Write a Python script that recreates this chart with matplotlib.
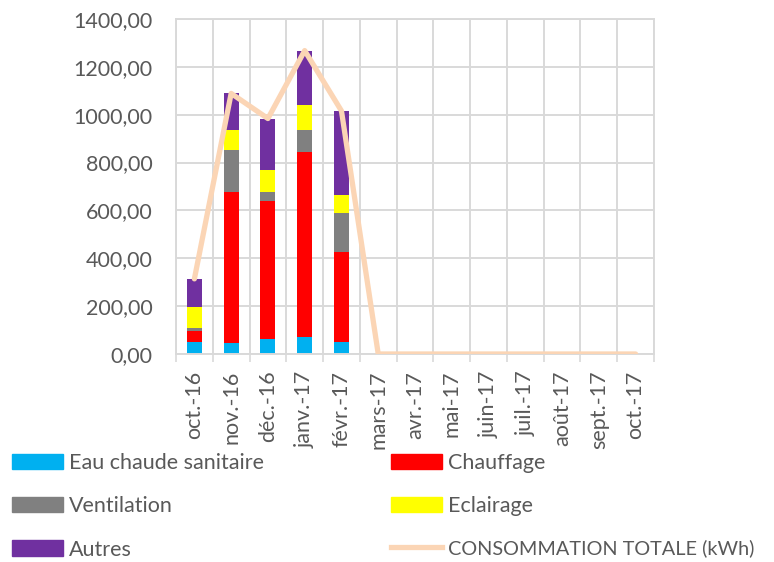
import numpy as np
import matplotlib.pyplot as plt
from matplotlib.patches import Patch
from matplotlib.lines import Line2D

mois = ['oct.-16', 'nov.-16', 'déc.-16', 'janv.-17', 'févr.-17', 'mars-17', 'avr.-17',
        'mai-17', 'juin-17', 'juil.-17', 'août-17', 'sept.-17', 'oct.-17']

eau_chaude = [52, 45, 64, 71, 52]
chauffage = [46, 631, 574, 772, 374]
ventilation = [12, 176, 37, 95, 162]
eclairage = [87, 84, 96, 102, 76]
autres = [117, 153, 213, 228, 352]
total = [314, 1089, 984, 1268, 1016, 0, 0, 0, 0, 0, 0, 0, 0]

series = [
    ('Eau chaude sanitaire', eau_chaude, '#00B0F0'),
    ('Chauffage', chauffage, '#FF0000'),
    ('Ventilation', ventilation, '#808080'),
    ('Eclairage', eclairage, '#FFFF00'),
    ('Autres', autres, '#7030A0'),
]
couleur_total = '#FBD5B5'
gris_texte = '#595959'
gris_grille = '#D9D9D9'

plt.rcParams['font.family'] = ['Lato', 'DejaVu Sans']

fig = plt.figure(figsize=(7.74, 5.62), dpi=100)
ax = fig.add_axes([176 / 774, 1 - 354 / 562, 478 / 774, 335 / 562])

x = np.arange(len(mois))
n = len(eau_chaude)
bas = np.zeros(n)
for nom, vals, coul in series:
    ax.bar(x[:n], vals, width=0.41, bottom=bas, color=coul, zorder=2)
    bas += np.array(vals)

ax.plot(x, total, color=couleur_total, linewidth=3.8, zorder=3, solid_capstyle='round')

ax.set_xlim(-0.5, len(mois) - 0.5)
ax.set_ylim(0, 1400)
ax.set_yticks(np.arange(0, 1401, 200))
ax.set_yticklabels([f'{v},00' for v in range(0, 1401, 200)])
ax.set_xticks(x)
ax.set_xticklabels(mois, rotation=90)
ax.set_xticks(np.arange(-0.5, len(mois)), minor=True)

ax.tick_params(axis='y', length=0, pad=17, labelsize=15.5, labelcolor=gris_texte)
ax.tick_params(axis='x', which='major', length=0, pad=12, labelsize=15.5, labelcolor=gris_texte)
ax.tick_params(axis='x', which='minor', length=6, width=1.2, color=gris_grille)

ax.grid(axis='y', color=gris_grille, linewidth=1.4, zorder=0)
ax.grid(axis='x', which='minor', color=gris_grille, linewidth=1.4, zorder=0)
ax.set_axisbelow(True)
for sp in ax.spines.values():
    sp.set_color(gris_grille)
    sp.set_linewidth(1.4)

handles = [
    Patch(color=series[0][2], label=series[0][0]),
    Patch(color=series[2][2], label=series[2][0]),
    Patch(color=series[4][2], label=series[4][0]),
    Patch(color=series[1][2], label=series[1][0]),
    Patch(color=series[3][2], label=series[3][0]),
    Line2D([], [], color=couleur_total, linewidth=3.8, label='CONSOMMATION TOTALE (kWh)'),
]
leg = fig.legend(handles=handles, ncol=2, loc='upper left', bbox_to_anchor=(12 / 774, 1 - 453 / 562),
                 frameon=False, fontsize=15.5, handlelength=2.37, handleheight=0.7,
                 handletextpad=0.28, labelspacing=1.08, columnspacing=5.9,
                 borderaxespad=0, borderpad=0)
for t in leg.get_texts():
    t.set_color(gris_texte)
# le libellé du total est long : on le resserre un peu pour qu'il tienne dans la figure
leg.get_texts()[-1].set_fontsize(14.3)

fig.savefig('out.png', dpi=100)
